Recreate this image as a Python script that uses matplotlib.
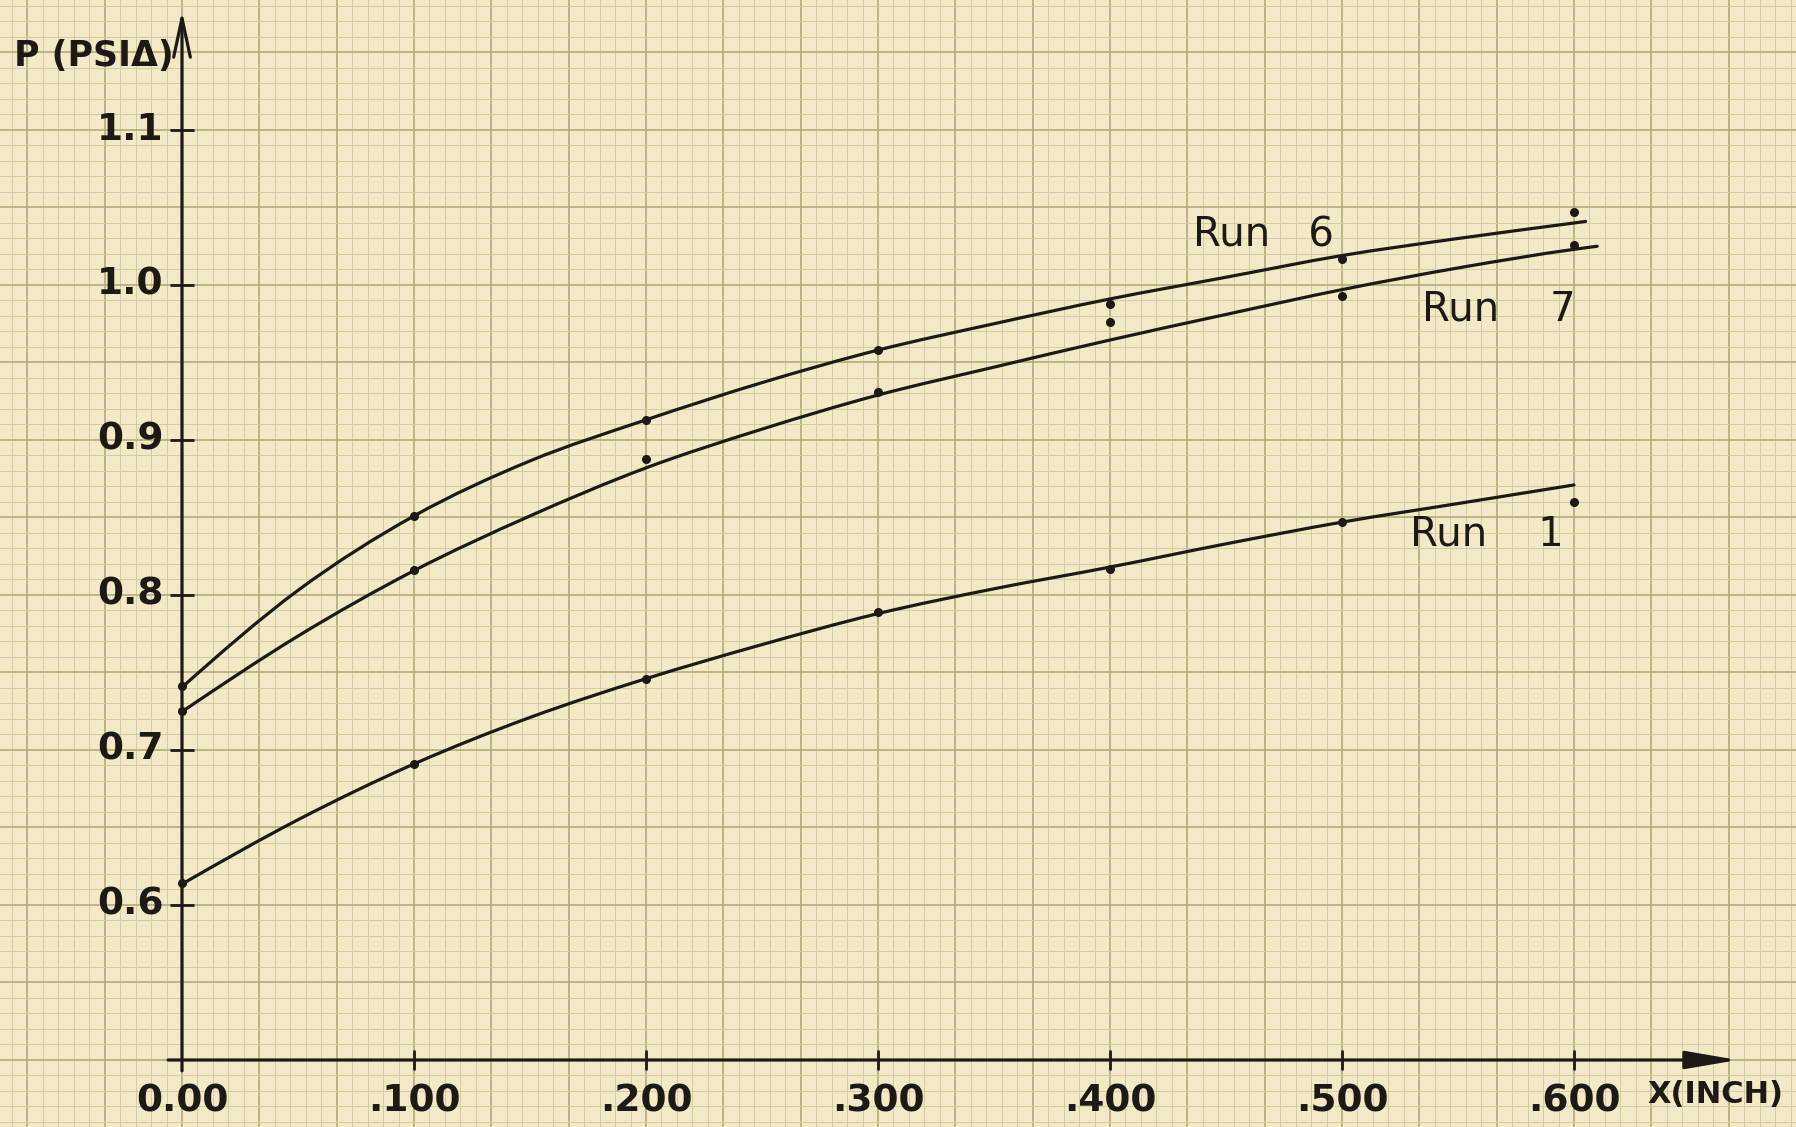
import numpy as np
import matplotlib.pyplot as plt
from matplotlib.path import Path
from matplotlib.patches import PathPatch

# measured points (x in inch, P in psia)
x_pts = [0.0, 0.1, 0.2, 0.3, 0.4, 0.5, 0.6]
run6_pts = [0.741, 0.851, 0.913, 0.958, 0.988, 1.017, 1.047]
run7_pts = [0.725, 0.816, 0.888, 0.931, 0.976, 0.993, 1.026]
run1_pts = [0.614, 0.691, 0.746, 0.789, 0.817, 0.847, 0.860]

# hand-drawn fitted curves, every .050
run6_x = [0.0, 0.05, 0.1, 0.15, 0.2, 0.25, 0.3, 0.35, 0.4, 0.45, 0.5, 0.55, 0.6, 0.605]
run6_y = [0.7405, 0.803, 0.851, 0.8865, 0.913, 0.937, 0.958, 0.975, 0.991, 1.005, 1.019, 1.030, 1.040, 1.041]
run7_x = [0.0, 0.05, 0.1, 0.15, 0.2, 0.25, 0.3, 0.35, 0.4, 0.45, 0.5, 0.55, 0.6, 0.61]
run7_y = [0.7247, 0.7735, 0.8157, 0.851, 0.882, 0.907, 0.929, 0.947, 0.9645, 0.981, 0.997, 1.011, 1.023, 1.025]
run1_x = [0.0, 0.05, 0.1, 0.15, 0.2, 0.25, 0.3, 0.35, 0.4, 0.45, 0.5, 0.55, 0.6]
run1_y = [0.6135, 0.655, 0.691, 0.721, 0.746, 0.768, 0.788, 0.804, 0.818, 0.833, 0.847, 0.859, 0.871]

x_ticks = [0.0, 0.1, 0.2, 0.3, 0.4, 0.5, 0.6]
x_labels = ["0.00", ".100", ".200", ".300", ".400", ".500", ".600"]
y_ticks = [0.6, 0.7, 0.8, 0.9, 1.0, 1.1]
y_labels = ["0.6", "0.7", "0.8", "0.9", "1.0", "1.1"]

ink = "#1d1915"
paper = "#f3e9c6"


def smooth_path(xs, ys):
    # french-curve look: cubic segments through the read points
    xs = np.asarray(xs, float)
    ys = np.asarray(ys, float)
    h = np.diff(xs)
    d = np.diff(ys) / h
    m = np.empty_like(ys)
    m[1:-1] = (d[:-1] * h[1:] + d[1:] * h[:-1]) / (h[:-1] + h[1:])
    m[0] = 1.5 * d[0] - 0.5 * m[1]
    m[-1] = d[-1]
    verts = [(xs[0], ys[0])]
    codes = [Path.MOVETO]
    for i in range(len(h)):
        verts += [(xs[i] + h[i] / 3, ys[i] + m[i] * h[i] / 3),
                  (xs[i + 1] - h[i] / 3, ys[i + 1] - m[i + 1] * h[i] / 3),
                  (xs[i + 1], ys[i + 1])]
        codes += [Path.CURVE4] * 3
    return Path(verts, codes)


fig = plt.figure(figsize=(17.96, 11.27), dpi=100, facecolor=paper)
ax = fig.add_axes([0, 0, 1, 1])
ax.set_facecolor(paper)
xmin, xmax = -0.07845, 0.6957
ymin, ymax = 0.45677, 1.18387
ax.set_xlim(xmin, xmax)
ax.set_ylim(ymin, ymax)
ax.axis("off")

# graph paper
minor_c, major_c = "#d2cba0", "#b1ab79"
step_x = 0.1 / 15
for k in range(int(np.floor(xmin / step_x)), int(np.ceil(xmax / step_x)) + 1):
    major = k % 5 == 0
    ax.axvline(k * step_x, color=major_c if major else minor_c,
               lw=1.2 if major else 0.7, zorder=0)
step_y = 0.01
for k in range(int(np.floor((ymin - 0.5) / step_y)), int(np.ceil((ymax - 0.5) / step_y)) + 1):
    major = k % 5 == 0
    ax.axhline(0.5 + k * step_y, color=major_c if major else minor_c,
               lw=1.2 if major else 0.7, zorder=0)

# axes with arrows
ax.annotate("", xy=(0, 1.177), xytext=(0, 0.493),
            arrowprops=dict(arrowstyle="->,head_length=28,head_width=6", mutation_scale=1,
                            lw=2.3, color=ink, shrinkA=0, shrinkB=0), zorder=5)
ax.annotate("", xy=(0.6706, 0.5), xytext=(-0.006, 0.5),
            arrowprops=dict(arrowstyle="-|>,head_length=32,head_width=5.5", mutation_scale=1,
                            lw=2.3, color=ink, shrinkA=0, shrinkB=0), zorder=5)

# tick crosses
ax.plot(x_ticks[1:], [0.5] * (len(x_ticks) - 1), linestyle="none", marker="|",
        markersize=15, markeredgewidth=2, color=ink, zorder=5)
ax.plot([0] * len(y_ticks), y_ticks, linestyle="none", marker="_",
        markersize=17, markeredgewidth=2, color=ink, zorder=5)

for xv, lab in zip(x_ticks, x_labels):
    ax.text(xv, 0.473, lab, ha="center", va="center", fontsize=27,
            fontweight="bold", color=ink)
for yv, lab in zip(y_ticks, y_labels):
    ax.text(-0.008, yv, lab, ha="right", va="center", fontsize=27,
            fontweight="bold", color=ink)

ax.text(-0.0725, 1.148, "P (PSIΔ)", ha="left", va="center", fontsize=25,
        fontweight="bold", color=ink)
ax.text(0.6315, 0.478, "X(INCH)", ha="left", va="center", fontsize=22,
        fontweight="bold", color=ink)

# curves and points
for cx, cy in [(run6_x, run6_y), (run7_x, run7_y), (run1_x, run1_y)]:
    ax.add_patch(PathPatch(smooth_path(cx, cy), facecolor="none", edgecolor=ink,
                           lw=2.3, capstyle="round", zorder=4))
for py in [run6_pts, run7_pts, run1_pts]:
    ax.plot(x_pts, py, linestyle="none", marker="o", markersize=5.5,
            color=ink, zorder=6)

ax.text(0.466, 1.032, "Run   6", ha="center", va="center", fontsize=29, color=ink)
ax.text(0.5675, 0.9845, "Run    7", ha="center", va="center", fontsize=29, color=ink)
ax.text(0.5626, 0.839, "Run    1", ha="center", va="center", fontsize=29, color=ink)

fig.savefig("out.png", dpi=100, facecolor=paper)
